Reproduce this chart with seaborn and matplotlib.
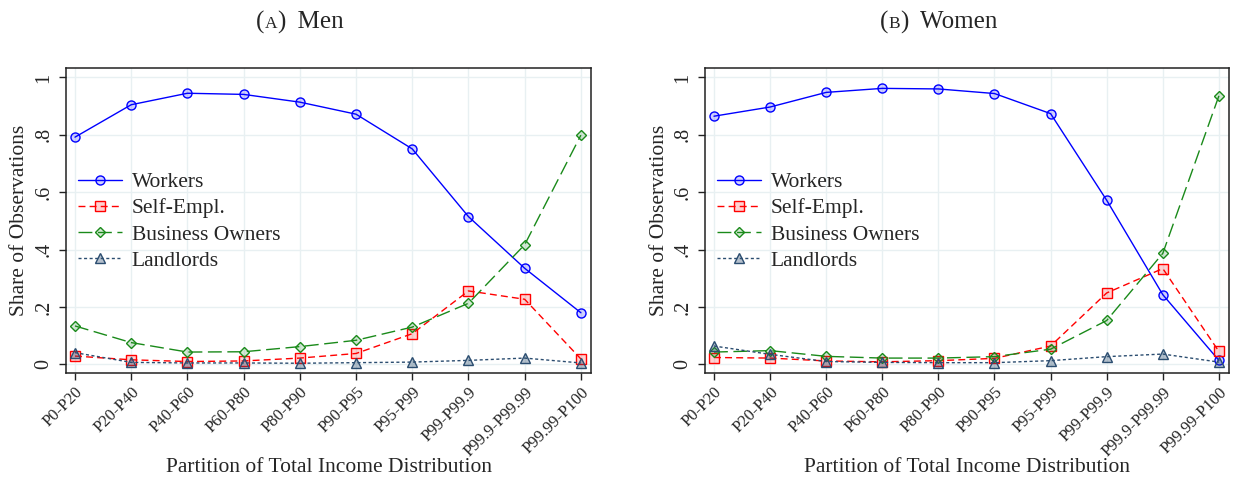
import numpy as np
import pandas as pd
import matplotlib
matplotlib.use("Agg")
import matplotlib.pyplot as plt
import seaborn as sns
from matplotlib.offsetbox import TextArea, HPacker, AnchoredOffsetbox

categories = ["P0-P20", "P20-P40", "P40-P60", "P60-P80", "P80-P90", "P90-P95",
              "P95-P99", "P99-P99.9", "P99.9-P99.99", "P99.99-P100"]

men_workers = [0.792, 0.905, 0.945, 0.941, 0.914, 0.872, 0.751, 0.515, 0.335, 0.180]
men_selfempl = [0.029, 0.016, 0.010, 0.012, 0.022, 0.038, 0.107, 0.256, 0.227, 0.019]
men_business = [0.134, 0.076, 0.043, 0.044, 0.062, 0.084, 0.130, 0.213, 0.417, 0.799]
men_landlords = [0.041, 0.007, 0.005, 0.005, 0.004, 0.006, 0.008, 0.014, 0.022, 0.005]

women_workers = [0.865, 0.897, 0.948, 0.962, 0.960, 0.944, 0.874, 0.572, 0.243, 0.014]
women_selfempl = [0.024, 0.022, 0.012, 0.009, 0.013, 0.021, 0.064, 0.249, 0.334, 0.045]
women_business = [0.043, 0.048, 0.028, 0.022, 0.022, 0.027, 0.053, 0.153, 0.387, 0.936]
women_landlords = [0.064, 0.035, 0.010, 0.007, 0.006, 0.006, 0.013, 0.027, 0.036, 0.008]

series_names = ["Workers", "Self-Empl.", "Business Owners", "Landlords"]
yticks = [0, 0.2, 0.4, 0.6, 0.8, 1.0]
ytick_labels = ["0", ".2", ".4", ".6", ".8", "1"]

SERIF = ["Liberation Serif", "DejaVu Serif"]

sns.set_theme(style="white")
plt.rcParams["font.family"] = SERIF

styles = {
    "Workers": dict(color="#0000ff", marker="o", mfc=(0.0, 0.0, 1.0, 0.18), dashes=None, ms=6.5),
    "Self-Empl.": dict(color="#ff0000", marker="s", mfc=(1.0, 0.0, 0.0, 0.18), dashes=(5, 3), ms=6.5),
    "Business Owners": dict(color="#1a8a1a", marker="D", mfc=(0.1, 0.54, 0.1, 0.18), dashes=(10, 4), ms=5.5),
    "Landlords": dict(color="#2b4d70", marker="^", mfc=(0.17, 0.30, 0.44, 0.35), dashes=(2.2, 1.8), ms=6.5),
}

W, H = 1233, 483
fig = plt.figure(figsize=(W / 100, H / 100), dpi=100)

ax_top = 1 - 68 / H
ax_bot = 1 - 373 / H
ax_h_px = 373 - 68
axL = fig.add_axes([66 / W, ax_bot, (591 - 66) / W, ax_top - ax_bot])
axR = fig.add_axes([705 / W, ax_bot, (1229 - 705) / W, ax_top - ax_bot])

panels = [
    (axL, [men_workers, men_selfempl, men_business, men_landlords], "A", "Men", 300 / W, 591 - 66),
    (axR, [women_workers, women_selfempl, women_business, women_landlords], "B", "Women", 939 / W, 1229 - 705),
]

xpos = np.arange(len(categories))

for ax, vals, letter, word, tx, wpx in panels:
    handles = []
    for name, v in zip(series_names, vals):
        st = styles[name]
        df = pd.DataFrame({"x": xpos, "y": v})
        sns.lineplot(data=df, x="x", y="y", ax=ax, color=st["color"], lw=1.0,
                     marker=st["marker"], markersize=st["ms"],
                     markerfacecolor=st["mfc"], markeredgecolor=st["color"],
                     markeredgewidth=1.0, label=name, legend=False, zorder=3)
        line = ax.get_lines()[-1]
        if st["dashes"] is not None:
            line.set_dashes(st["dashes"])
        handles.append(line)

    ax.set_xlim(-0.16, 9.18)
    ax.set_ylim(-0.030, 1.033)
    ax.set_xticks(xpos)
    ax.set_xticklabels(categories, rotation=45, ha="right", rotation_mode="anchor",
                       fontsize=12)
    ax.set_yticks(yticks)
    ax.set_yticklabels(ytick_labels, rotation=90, va="center", fontsize=14.5)
    ax.grid(True, color="#e8f0f2", lw=1.0, zorder=0)
    ax.set_axisbelow(True)
    for s in ax.spines.values():
        s.set_color("#222222")
        s.set_linewidth(1.1)
        s.set_visible(True)
    ax.tick_params(axis="both", which="major", direction="out", length=5,
                   width=1.0, color="#222222", bottom=True, left=True, pad=3)
    ax.tick_params(axis="y", pad=4)
    ax.set_xlabel("Partition of Total Income Distribution", fontsize=15.5)
    ax.set_ylabel("Share of Observations", fontsize=15.5)
    ax.xaxis.set_label_coords(0.5, -(467 - 373) / ax_h_px)
    ax.xaxis.label.set_va("center")
    ax.yaxis.set_label_coords(-(66 - 20) / wpx, 0.5)
    ax.yaxis.label.set_va("center")

    ax.legend(handles=handles, labels=series_names, loc="center left",
              bbox_to_anchor=(0.05, 0.498), bbox_transform=ax.transData,
              frameon=False, fontsize=15.5, handlelength=2.05, handletextpad=0.45,
              labelspacing=0.28, borderpad=0, borderaxespad=0)

    parts = [
        TextArea("(", textprops=dict(size=18, family=SERIF)),
        TextArea(letter, textprops=dict(size=12.5, family=SERIF)),
        TextArea(")", textprops=dict(size=18, family=SERIF)),
        TextArea("  " + word, textprops=dict(size=18, family=SERIF)),
    ]
    box = HPacker(children=parts, align="baseline", pad=0, sep=0)
    anch = AnchoredOffsetbox(loc="center", child=box, pad=0, frameon=False,
                             bbox_to_anchor=(tx, 1 - 22 / H),
                             bbox_transform=fig.transFigure, borderpad=0)
    fig.add_artist(anch)

fig.savefig("out.png", dpi=100)
